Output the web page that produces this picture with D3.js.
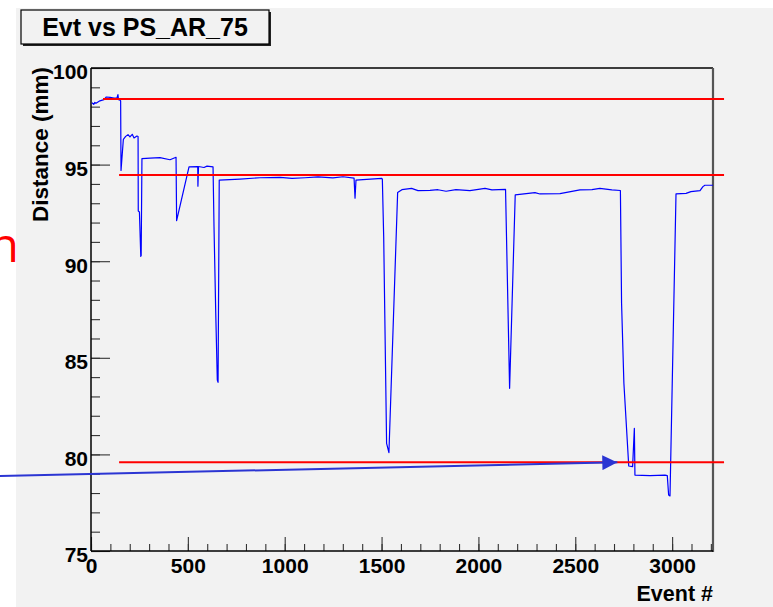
<!DOCTYPE html>
<html>
<head>
<meta charset="utf-8">
<script src="https://cdn.jsdelivr.net/npm/d3@7"></script>
<style>
  html, body { margin: 0; padding: 0; background: #ffffff; }
  svg { display: block; }
  text { font-family: "Liberation Sans", Arial, Helvetica, sans-serif; }
</style>
</head>
<body>
<svg id="chart" width="773" height="607"></svg>
<script>
// Event number vs measured distance (mm)
const events = [5, 14, 20, 26, 46, 67, 79, 98, 119, 134, 139, 142, 150, 153, 155, 167, 179, 191, 201, 213,
  222, 237, 243, 244, 250, 257, 259, 263, 305, 356, 408, 439, 442, 506, 551, 552, 555, 583, 599, 630,
  635, 644, 652, 656, 662, 769, 872, 976, 1038, 1105, 1172, 1249, 1301, 1358, 1363, 1368, 1404, 1501, 1504, 1511,
  1526, 1538, 1583, 1605, 1655, 1688, 1750, 1791, 1833, 1884, 1956, 2034, 2070, 2140, 2161, 2190, 2292, 2318, 2421, 2524,
  2586, 2627, 2689, 2733, 2739, 2751, 2776, 2796, 2805, 2808, 2886, 2963, 2975, 2982, 2989, 3020, 3072, 3097, 3144, 3159,
  3169, 3211];
const distance = [98.20, 98.12, 98.22, 98.18, 98.30, 98.36, 98.50, 98.48, 98.44, 98.45, 98.62, 98.36, 98.34, 98.30, 94.70, 96.30, 96.46, 96.55, 96.43, 96.57,
  96.38, 96.48, 96.45, 92.60, 92.55, 90.25, 90.30, 95.31, 95.33, 95.36, 95.25, 95.38, 92.10, 94.88, 94.90, 93.88, 94.90, 94.85, 94.92, 94.88,
  91.80, 87.30, 83.85, 83.73, 94.20, 94.25, 94.32, 94.34, 94.29, 94.32, 94.36, 94.31, 94.37, 94.30, 93.26, 94.20, 94.22, 94.29, 94.25, 91.27,
  80.57, 80.09, 93.55, 93.70, 93.77, 93.65, 93.67, 93.70, 93.62, 93.70, 93.65, 93.77, 93.69, 93.72, 83.42, 93.43, 93.55, 93.48, 93.50, 93.69,
  93.70, 93.77, 93.69, 93.66, 87.82, 83.68, 79.40, 79.37, 81.35, 78.93, 78.90, 78.93, 78.90, 77.90, 77.85, 93.48, 93.51, 93.60, 93.65, 93.86,
  93.93, 93.93];

// Reference levels (mm) drawn as horizontal lines, with their event ranges
const refLevels = [98.4, 94.46, 79.59];
const refStart = [62, 145, 145];
const refEnd = [3268, 3268, 3268];

// Arrow pointing at the lowest reference level: [event, mm]
const arrowFrom = [-470, 78.88];
const arrowTo = [2717, 79.59];

// Axis ticks and titles
const xMajorTicks = [0, 500, 1000, 1500, 2000, 2500, 3000];
const xMinorTicks = d3.range(0, 3201, 100);
const yMajorTicks = [75, 80, 85, 90, 95, 100];
const yMinorTicks = d3.range(75, 101, 1);
const titleText = "Evt vs PS_AR_75";
const xTitle = "Event #";
const yTitle = "Distance (mm)";
const sideText = "n";

const svg = d3.select("#chart");
const W = 773, H = 607;
const frame = { left: 91, top: 68, right: 713, bottom: 551 };

// canvas background
svg.append("rect").attr("x", 16).attr("y", 8).attr("width", W - 16).attr("height", H - 8)
  .attr("fill", "#f2f2f2");

const x = d3.scaleLinear().domain([0, 3211]).range([frame.left, frame.right]);
const y = d3.scaleLinear().domain([75, 100]).range([frame.bottom, frame.top]);

// minor ticks
const gx = svg.append("g").attr("transform", `translate(0,${frame.bottom})`);
gx.call(d3.axisBottom(x).tickValues(xMinorTicks).tickSize(-7).tickFormat(""));
const gy = svg.append("g").attr("transform", `translate(${frame.left},0)`);
gy.call(d3.axisLeft(y).tickValues(yMinorTicks).tickSize(-9).tickFormat(""));

// major ticks + labels
const gxM = svg.append("g").attr("transform", `translate(0,${frame.bottom})`);
gxM.call(d3.axisBottom(x).tickValues(xMajorTicks).tickSize(-14).tickPadding(7.5).tickFormat(d3.format("d")));
const gyM = svg.append("g").attr("transform", `translate(${frame.left},0)`);
gyM.call(d3.axisLeft(y).tickValues(yMajorTicks).tickSize(-19).tickPadding(3).tickFormat(d3.format("d")));

[gx, gy, gxM, gyM].forEach(g => {
  g.select(".domain").remove();
  g.selectAll(".tick line").attr("stroke", "#333").attr("stroke-width", 1.1);
  g.selectAll(".tick text").attr("fill", "#000").style("font-size", "21px").style("font-weight", "bold")
    .style("font-family", "'Liberation Sans', Arial, sans-serif");
});
gyM.selectAll(".tick text").attr("dy", "0.52em");

// frame
svg.append("line").attr("x1", frame.left).attr("x2", frame.right).attr("y1", frame.top).attr("y2", frame.top)
  .attr("stroke", "#000").attr("stroke-width", 1.3);
svg.append("line").attr("x1", frame.right).attr("x2", frame.right).attr("y1", frame.top).attr("y2", frame.bottom + 1)
  .attr("stroke", "#555").attr("stroke-width", 2.2);
svg.append("line").attr("x1", frame.left).attr("x2", frame.left).attr("y1", frame.top).attr("y2", frame.bottom)
  .attr("stroke", "#000").attr("stroke-width", 1.5);
svg.append("line").attr("x1", frame.left).attr("x2", frame.right).attr("y1", frame.bottom).attr("y2", frame.bottom)
  .attr("stroke", "#000").attr("stroke-width", 1.5);

// data line
const pts = events.map((e, i) => [e, distance[i]]);
svg.append("path").datum(pts)
  .attr("fill", "none").attr("stroke", "#0000ff").attr("stroke-width", 1.2).attr("stroke-linejoin", "round")
  .attr("d", d3.line().x(d => x(d[0])).y(d => y(d[1])));

// reference lines
svg.append("g").selectAll("line").data(refLevels).join("line")
  .attr("x1", (d, i) => x(refStart[i])).attr("x2", (d, i) => x(refEnd[i]))
  .attr("y1", d => y(d)).attr("y2", d => y(d))
  .attr("stroke", "#ff0000").attr("stroke-width", 2);

// arrow
const defs = svg.append("defs");
defs.append("marker").attr("id", "head").attr("viewBox", "0 0 10 10")
  .attr("refX", 10).attr("refY", 5).attr("markerWidth", 15).attr("markerHeight", 15)
  .attr("markerUnits", "userSpaceOnUse").attr("orient", "auto")
  .append("path").attr("d", "M0,0 L10,5 L0,10 Z").attr("fill", "#2b35d3");
svg.append("line")
  .attr("x1", x(arrowFrom[0])).attr("y1", y(arrowFrom[1]))
  .attr("x2", x(arrowTo[0])).attr("y2", y(arrowTo[1]))
  .attr("stroke", "#2b35d3").attr("stroke-width", 2).attr("marker-end", "url(#head)");

// title box
const tb = { x: 21, y: 10, w: 248, h: 34 };
svg.append("rect").attr("x", tb.x + 2).attr("y", tb.y + 2).attr("width", tb.w).attr("height", tb.h).attr("fill", "#222");
svg.append("rect").attr("x", tb.x).attr("y", tb.y).attr("width", tb.w).attr("height", tb.h)
  .attr("fill", "#f2f2f2").attr("stroke", "#000").attr("stroke-width", 1.2);
svg.append("text").attr("x", tb.x + tb.w / 2).attr("y", 36).attr("text-anchor", "middle")
  .style("font-size", "25px").style("font-weight", "bold").text(titleText);

// axis titles
svg.append("text").attr("x", frame.right).attr("y", 601).attr("text-anchor", "end")
  .style("font-size", "21.5px").style("font-weight", "bold").text(xTitle);
svg.append("text").attr("transform", `translate(48,${frame.top - 1}) rotate(-90)`).attr("text-anchor", "end")
  .style("font-size", "22.5px").style("font-weight", "bold").text(yTitle);

// side text
svg.append("text").attr("x", 19).attr("y", 262).attr("text-anchor", "end")
  .style("font-family", "'Open Sans', sans-serif").style("font-size", "48px").attr("fill", "#ff0000").text(sideText);
</script>
</body>
</html>
